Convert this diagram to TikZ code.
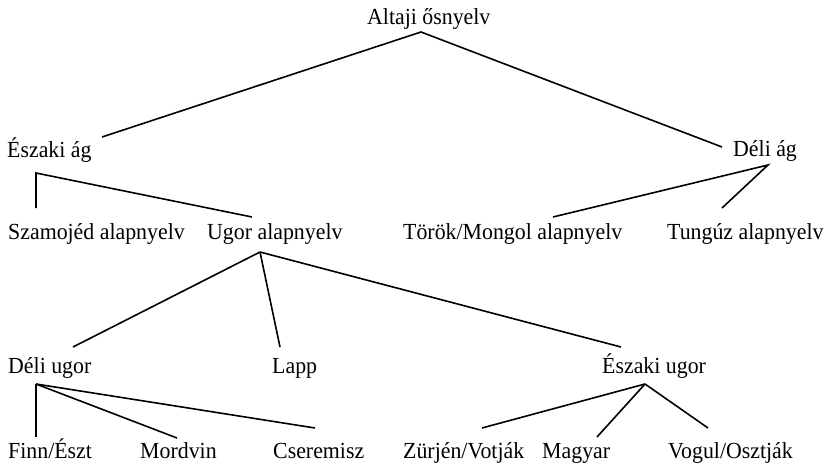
\documentclass[tikz,border=0pt]{standalone}
\usepackage{fontspec}
\setmainfont{Liberation Serif}[FakeStretch=0.95]
\usepackage{tikz}

\begin{document}
\begin{tikzpicture}[x=1pt, y=-1pt,
    lang/.style={anchor=base west, inner sep=0pt, font=\fontsize{23}{27}\selectfont},
    ag/.style={line width=1.6pt}]
    \useasboundingbox (0,0) rectangle (833,466);

    \node[lang] (altaji) at (367,24) {Altaji ősnyelv};
    \node[lang] (eszak) at (7,157) {Északi ág};
    \node[lang] (deli) at (733,156) {Déli ág};

    \node[lang] (szamojed) at (8,239) {Szamojéd alapnyelv};
    \node[lang] (ugor) at (207,239) {Ugor alapnyelv};
    \node[lang] (torok) at (403,239) {Török/Mongol alapnyelv};
    \node[lang] (tunguz) at (667,239) {Tungúz alapnyelv};

    \node[lang] (deliugor) at (8,373) {Déli ugor};
    \node[lang] (lapp) at (272,373) {Lapp};
    \node[lang] (eszugor) at (602,373) {Északi ugor};

    \node[lang] (finn) at (8,458) {Finn/Észt};
    \node[lang] (mordvin) at (140,458) {Mordvin};
    \node[lang] (cseremisz) at (273,458) {Cseremisz};
    \node[lang] (zurjen) at (403,458) {Zürjén/Votják};
    \node[lang] (magyar) at (542,458) {Magyar};
    \node[lang] (vogul) at (668,458) {Vogul/Osztják};

    % top split
    \draw[ag] ([shift={(95,-20)}]eszak.base west) -- ([shift={(54,8)}]altaji.base west)
        -- ([shift={(-11,-9)}]deli.base west);

    % Északi ág
    \draw[ag] ([shift={(28,-31)}]szamojed.base west) -- ([shift={(29,16)}]eszak.base west)
        -- ([shift={(45,-22)}]ugor.base west);

    % Déli ág
    \draw[ag] ([shift={(150,-22)}]torok.base west) -- ([shift={(35,9)}]deli.base west)
        -- ([shift={(55,-31)}]tunguz.base west);

    % Ugor alapnyelv
    \draw[ag] ([shift={(53,13)}]ugor.base west) -- ([shift={(65,-26)}]deliugor.base west);
    \draw[ag] ([shift={(53,13)}]ugor.base west) -- ([shift={(8,-26)}]lapp.base west);
    \draw[ag] ([shift={(53,13)}]ugor.base west) -- ([shift={(19,-26)}]eszugor.base west);

    % Déli ugor
    \draw[ag] ([shift={(28,11)}]deliugor.base west) -- ([shift={(28,-21)}]finn.base west);
    \draw[ag] ([shift={(28,11)}]deliugor.base west) -- ([shift={(37,-20)}]mordvin.base west);
    \draw[ag] ([shift={(28,11)}]deliugor.base west) -- ([shift={(42,-30)}]cseremisz.base west);

    % Északi ugor
    \draw[ag] ([shift={(43,11)}]eszugor.base west) -- ([shift={(79,-30)}]zurjen.base west);
    \draw[ag] ([shift={(43,11)}]eszugor.base west) -- ([shift={(55,-21)}]magyar.base west);
    \draw[ag] ([shift={(43,11)}]eszugor.base west) -- ([shift={(40,-30)}]vogul.base west);
\end{tikzpicture}
\end{document}
